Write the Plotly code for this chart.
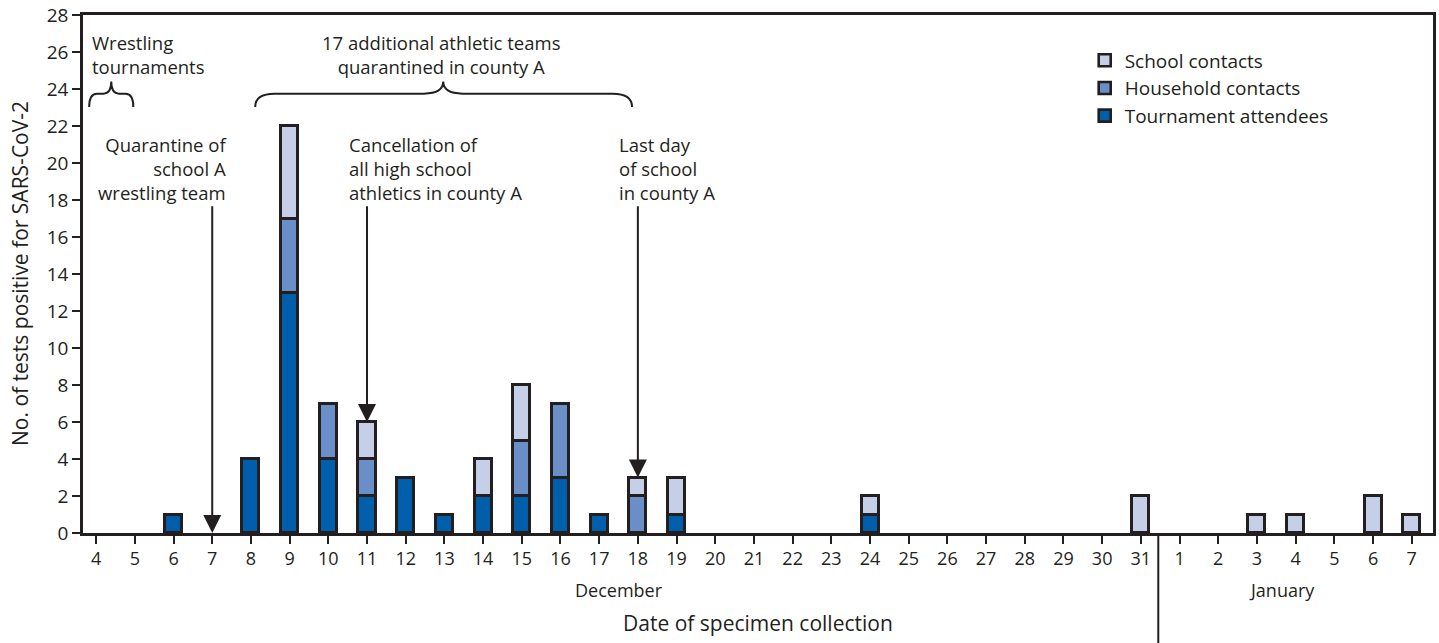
import plotly.graph_objects as go

# ---- data ----
dec_days = list(range(4, 32))
jan_days = list(range(1, 8))
tick_labels = [str(d) for d in dec_days] + [str(d) for d in jan_days]
n = len(tick_labels)
x_idx = list(range(n))

def series(dec_vals, jan_vals):
    v = [None] * n
    for d, c in dec_vals.items():
        v[dec_days.index(d)] = c
    for d, c in jan_vals.items():
        v[len(dec_days) + jan_days.index(d)] = c
    return v

tournament = series({6: 1, 8: 4, 9: 13, 10: 4, 11: 2, 12: 3, 13: 1, 14: 2, 15: 2, 16: 3, 17: 1, 19: 1, 24: 1}, {})
household = series({9: 4, 10: 3, 11: 2, 15: 3, 16: 4, 18: 2}, {})
school = series({9: 5, 11: 2, 14: 2, 15: 3, 18: 1, 19: 2, 24: 1, 31: 2}, {3: 1, 4: 1, 6: 2, 7: 1})

series_names = ["Tournament attendees", "Household contacts", "School contacts"]
series_values = [tournament, household, school]
series_colors = ["#005EAB", "#6A8FC8", "#C5D0E8"]

FONT = "Open Sans"
INK = "#231F20"

# plot-area geometry (px) used to convert label positions
L, R, T, B, W, H = 83, 6, 15, 110, 1439, 643
PW, PH = W - L - R, H - T - B

def px_x(x):
    return (x - L) / PW

def px_y(y):
    return (H - B - y) / PH

fig = go.Figure()
for name, vals, col in zip(series_names, series_values, series_colors):
    fig.add_trace(go.Bar(
        x=x_idx, y=vals, name=name,
        marker=dict(color=col, line=dict(color=INK, width=2.6)),
        width=0.44,
    ))

fig.update_layout(
    barmode="stack",
    width=W, height=H,
    margin=dict(l=L, r=R, t=T, b=B, autoexpand=False),
    plot_bgcolor="white", paper_bgcolor="white",
    font=dict(family=FONT, size=18, color=INK),
    showlegend=True,
    legend=dict(
        traceorder="reversed", x=0.742, y=0.949, xanchor="left", yanchor="top",
        font=dict(size=19, family=FONT, color=INK), bgcolor="rgba(0,0,0,0)",
        itemwidth=30, tracegroupgap=0,
    ),
    bargap=0,
)

fig.update_xaxes(
    range=[-0.34, 34.55], tickmode="array", tickvals=x_idx, ticktext=tick_labels,
    ticks="outside", ticklen=8, tickwidth=2, tickcolor=INK,
    showline=True, linecolor=INK, linewidth=2.5, mirror=True,
    showgrid=False, zeroline=False, automargin=False,
    tickfont=dict(size=18, family=FONT, color=INK),
)
fig.update_yaxes(
    range=[0, 28], dtick=2, ticks="outside", ticklen=8, tickwidth=2, tickcolor=INK,
    showline=True, linecolor=INK, linewidth=2.5, mirror=True,
    showgrid=False, zeroline=False, automargin=False,
    tickfont=dict(size=19, family=FONT, color=INK),
)

# month divider
fig.add_shape(type="line", xref="x", yref="paper", x0=27.45, x1=27.45, y0=0, y1=-0.22,
              line=dict(color=INK, width=2))

# braces
def brace(x0, x1, xm, yend, ytop, ypeak, dx):
    return (f"M {x0},{yend} Q {x0},{ytop} {x0+dx},{ytop} L {xm-dx},{ytop} "
            f"Q {xm},{ytop} {xm},{ypeak} Q {xm},{ytop} {xm+dx},{ytop} "
            f"L {x1-dx},{ytop} Q {x1},{ytop} {x1},{yend}")

fig.add_shape(type="path", xref="x", yref="y",
              path=brace(-0.18, 0.96, 0.39, 23.03, 23.75, 24.4, 0.2),
              line=dict(color=INK, width=2))
fig.add_shape(type="path", xref="x", yref="y",
              path=brace(4.11, 13.85, 8.97, 23.03, 23.75, 24.4, 0.5),
              line=dict(color=INK, width=2))

def block(xpx, ymid, text, xanchor="left", size=18.5):
    fig.add_annotation(x=px_x(xpx), y=px_y(ymid), xref="paper", yref="paper", text=text,
                       showarrow=False, xanchor=xanchor, yanchor="middle",
                       align={"left": "left", "right": "right", "center": "center"}[xanchor],
                       borderpad=0,
                       font=dict(size=size, family=FONT, color=INK))

block(91, 54.5, "Wrestling<br>tournaments")
block(441, 54.5, "17 additional athletic teams<br>quarantined in county A", xanchor="center")
block(228, 168.5, "Quarantine of<br>school A<br>wrestling team", xanchor="right")
block(348, 168.5, "Cancellation of<br>all high school<br>athletics in county A")
block(618, 168.5, "Last day<br>of school<br>in county A")

# arrows
for xi, tip in [(3, 0), (7, 6), (14, 3)]:
    fig.add_annotation(x=xi, y=tip, ax=xi, ay=17.75, xref="x", yref="y", axref="x", ayref="y",
                       showarrow=True, arrowhead=2, arrowsize=1.8, arrowwidth=2, arrowcolor=INK,
                       text="", standoff=0)

# month labels, axis titles
for xi, t in [(13.5, "December"), (30.65, "January")]:
    fig.add_annotation(x=xi, y=-0.110, xref="x", yref="paper", text=t, showarrow=False,
                       xanchor="center", yanchor="middle",
                       font=dict(size=18, family=FONT, color=INK))
fig.add_annotation(x=0.5, y=-0.174, xref="paper", yref="paper", text="Date of specimen collection",
                   showarrow=False, xanchor="center", yanchor="middle",
                   font=dict(size=21, family=FONT, color=INK))
fig.add_annotation(x=px_x(20), y=0.5, xref="paper", yref="paper", text="No. of tests positive for SARS-CoV-2",
                   showarrow=False, xanchor="center", yanchor="middle", textangle=-90,
                   font=dict(size=21, family=FONT, color=INK))

fig.write_html("out.html", config={"displayModeBar": False},
               post_script="document.body.style.margin='0';document.body.style.overflow='hidden';")
